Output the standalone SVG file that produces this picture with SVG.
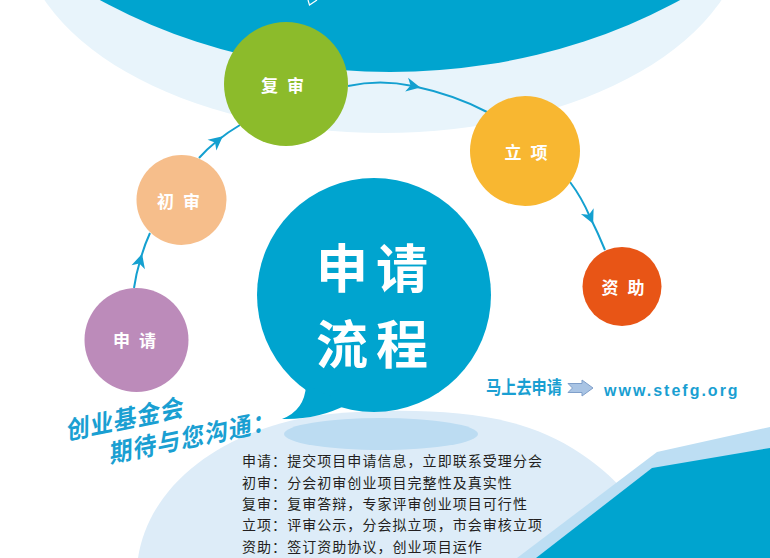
<svg xmlns="http://www.w3.org/2000/svg" width="770" height="558" viewBox="0 0 770 558">
  <style>
    .cjk { font-family: "Noto Sans CJK SC", "Noto Sans", sans-serif; }
    .node-label { font-family: "Noto Sans CJK SC", sans-serif; font-size: 17px; font-weight: bold; fill: #ffffff; text-anchor: middle; letter-spacing: 9px; }
    .desc { font-family: "Noto Sans CJK SC", sans-serif; font-size: 14px; fill: #231f20; letter-spacing: 1.05px; }
    .blue-text { fill: #1a9fd2; }
    .title { font-family: "Noto Sans CJK SC", sans-serif; font-size: 52px; font-weight: bold; fill: #ffffff; letter-spacing: 8px; }
    .conn { fill: none; stroke: #14a0d0; stroke-width: 2; marker-mid: url(#arr); }
  </style>
  <defs>
    <marker id="arr" viewBox="-9 -9 18 18" markerWidth="18" markerHeight="18" markerUnits="userSpaceOnUse" orient="auto" refX="0" refY="0">
      <path d="M7.5,0 L-6.5,-7 L-2.5,0 L-6.5,7 Z" fill="#14a0d0"/>
    </marker>
  </defs>

  <rect width="770" height="558" fill="#ffffff"/>

  <!-- background shapes -->
  <g id="background">
    <ellipse cx="383" cy="-75" rx="363" ry="208" fill="#e8f4fb"/>
    <ellipse cx="390" cy="-328" rx="507" ry="400" fill="#00a4cf"/>
    <path d="M308,0 L309.5,5 L317,0" fill="none" stroke="#ffffff" stroke-width="1.2"/>
    <path d="M138,558 C150,480 230,425 330,414 C400,408 470,410 520,425 C570,440 610,470 640,510 L660,558 Z" fill="#ddecf8"/>
    <ellipse cx="381" cy="434" rx="97" ry="16" fill="#bcdcf2"/>
    <polygon points="517,558 657,452 770,427 770,558" fill="#bddef3"/>
    <polygon points="536,558 652,468 770,448 770,558" fill="#00a4cf"/>
  </g>

  <!-- connectors -->
  <g id="connectors">
    <path class="conn" d="M134,288 Q136,274 140,261 Q144,246 150,233"/>
    <path class="conn" d="M199,158 Q207,149 217,141 Q228,132 240,125"/>
    <path class="conn" d="M348,86 Q380,79 413,86 Q455,95 487,112"/>
    <path class="conn" d="M570,182 Q582,198 590,217 Q598,233 605,250"/>
  </g>

  <!-- nodes -->
  <g id="node-shenqing">
    <circle cx="136.5" cy="340" r="52" fill="#bc8bba"/>
    <text class="node-label" x="139" y="346.5">申请</text>
  </g>
  <g id="node-chushen">
    <circle cx="181.5" cy="200" r="45" fill="#f6be8b"/>
    <text class="node-label" x="183" y="207.5">初审</text>
  </g>
  <g id="node-fushen">
    <circle cx="286" cy="84" r="62" fill="#8cbb2b"/>
    <text class="node-label" x="287" y="91.5">复审</text>
  </g>
  <g id="node-lixiang">
    <circle cx="525" cy="151" r="55" fill="#f8b731"/>
    <text class="node-label" x="530.5" y="158.5">立项</text>
  </g>
  <g id="node-zizhu">
    <circle cx="622" cy="286.5" r="39.5" fill="#e85516"/>
    <text class="node-label" x="627.5" y="293.5">资助</text>
  </g>

  <!-- title bubble -->
  <g id="title-bubble">
    <circle cx="374" cy="295" r="117" fill="#00a4cf"/>
    <path d="M306,385 Q305,410 282,419 Q318,420 348,404 Z" fill="#00a4cf"/>
    <text class="title" x="316" y="287.5">申请</text>
    <text class="title" x="316" y="363.5">流程</text>
  </g>

  <!-- slanted slogan -->
  <g id="slogan" class="blue-text">
    <text class="cjk" font-size="23" font-weight="bold" letter-spacing="1" transform="translate(67,440) rotate(-11.5) skewX(-12) scale(1,1.08)">创业基金会</text>
    <text class="cjk" font-size="23" font-weight="bold" letter-spacing="1.3" transform="translate(110,463) rotate(-11.5) skewX(-12) scale(1,1.08)">期待与您沟通：</text>
  </g>

  <!-- apply link -->
  <g id="apply-link">
    <text class="cjk blue-text" x="486" y="394" font-size="18" font-weight="bold" textLength="76" lengthAdjust="spacingAndGlyphs">马上去申请</text>
    <path d="M568,383.5 L582,383.5 L582,380 L593,388 L582,396 L582,392.5 L568,392.5 L572.5,388 Z" fill="#a9c4e4" stroke="#7f9fca" stroke-width="1"/>
    <text class="blue-text" x="604" y="396" font-family="'Liberation Sans', Arial, sans-serif" font-size="16" font-weight="bold" letter-spacing="2">www.stefg.org</text>
  </g>

  <!-- description -->
  <g id="description">
    <text class="desc" x="242" y="466">申请：提交项目申请信息，立即联系受理分会</text>
    <text class="desc" x="242" y="487.5">初审：分会初审创业项目完整性及真实性</text>
    <text class="desc" x="242" y="509">复审：复审答辩，专家评审创业项目可行性</text>
    <text class="desc" x="242" y="530">立项：评审公示，分会拟立项，市会审核立项</text>
    <text class="desc" x="242" y="551.5">资助：签订资助协议，创业项目运作</text>
  </g>
</svg>
